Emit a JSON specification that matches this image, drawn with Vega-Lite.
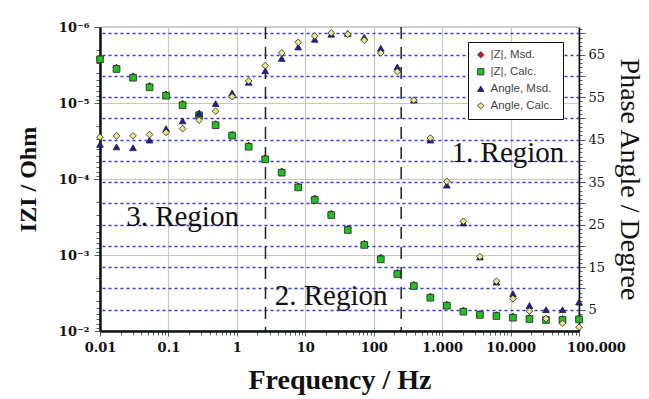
{
  "$schema": "https://vega.github.io/schema/vega-lite/v6.json",
  "width": 479,
  "height": 304,
  "autosize": {"type": "none"},
  "padding": {"left": 100, "top": 27, "right": 70, "bottom": 68},
  "background": "white",
  "config": {
    "view": {"stroke": "#444", "strokeWidth": 1.2},
    "font": "Liberation Serif",
    "axis": {"labelColor": "#111", "titleColor": "#111", "domainColor": "#111"},
    "legend": {
      "title": null,
      "orient": "none",
      "legendX": 368,
      "legendY": 15,
      "direction": "vertical",
      "labelFont": "Liberation Sans",
      "labelFontSize": 11.5,
      "labelColor": "#444",
      "symbolSize": 40,
      "symbolStrokeColor": "#222",
      "symbolStrokeWidth": 0.8,
      "rowPadding": 4,
      "padding": 7,
      "strokeColor": "#111",
      "fillColor": "white"
    }
  },
  "data": {
    "values": [
      {"f": 0.01, "zm": 2.55e-6, "zc": 2.66e-6, "am": 43.9, "ac": 45.6},
      {"f": 0.01743, "zm": 3.42e-6, "zc": 3.57e-6, "am": 43.3, "ac": 45.9},
      {"f": 0.03039, "zm": 4.45e-6, "zc": 4.65e-6, "am": 43.1, "ac": 45.9},
      {"f": 0.05298, "zm": 5.95e-6, "zc": 6.21e-6, "am": 44.9, "ac": 46.2},
      {"f": 0.09236, "zm": 7.7e-6, "zc": 8.02e-6, "am": 47.6, "ac": 46.7},
      {"f": 0.161, "zm": 1.02e-5, "zc": 1.07e-5, "am": 49.4, "ac": 47.6},
      {"f": 0.2807, "zm": 1.39e-5, "zc": 1.45e-5, "am": 51.2, "ac": 49.6},
      {"f": 0.4894, "zm": 1.89e-5, "zc": 1.96e-5, "am": 53.5, "ac": 51.7},
      {"f": 0.8532, "zm": 2.6e-5, "zc": 2.69e-5, "am": 56.0, "ac": 55.1},
      {"f": 1.4874, "zm": 3.62e-5, "zc": 3.76e-5, "am": 58.5, "ac": 58.8},
      {"f": 2.593, "zm": 5.3e-5, "zc": 5.51e-5, "am": 61.2, "ac": 62.4},
      {"f": 4.52, "zm": 7.95e-5, "zc": 8.26e-5, "am": 64.1, "ac": 65.4},
      {"f": 7.88, "zm": 1.24e-4, "zc": 1.29e-4, "am": 66.8, "ac": 67.9},
      {"f": 13.74, "zm": 1.8e-4, "zc": 1.89e-4, "am": 68.6, "ac": 69.4},
      {"f": 23.95, "zm": 2.86e-4, "zc": 2.98e-4, "am": 69.8, "ac": 70.1},
      {"f": 41.75, "zm": 4.5e-4, "zc": 4.69e-4, "am": 70.0, "ac": 69.8},
      {"f": 72.79, "zm": 7.1e-4, "zc": 7.38e-4, "am": 69.1, "ac": 68.4},
      {"f": 126.9, "zm": 1.08e-3, "zc": 1.14e-3, "am": 66.5, "ac": 65.4},
      {"f": 221.2, "zm": 1.71e-3, "zc": 1.78e-3, "am": 62.1, "ac": 61.0},
      {"f": 385.7, "zm": 2.46e-3, "zc": 2.56e-3, "am": 54.3, "ac": 54.3},
      {"f": 672.4, "zm": 3.52e-3, "zc": 3.65e-3, "am": 44.9, "ac": 45.4},
      {"f": 1172, "zm": 4.48e-3, "zc": 4.65e-3, "am": 34.3, "ac": 35.2},
      {"f": 2044, "zm": 5.38e-3, "zc": 5.57e-3, "am": 25.4, "ac": 25.8},
      {"f": 3563, "zm": 5.95e-3, "zc": 6.15e-3, "am": 17.4, "ac": 17.5},
      {"f": 6212, "zm": 6.15e-3, "zc": 6.35e-3, "am": 11.5, "ac": 11.7},
      {"f": 10829, "zm": 6.45e-3, "zc": 6.68e-3, "am": 8.8, "ac": 7.6},
      {"f": 18879, "zm": 6.7e-3, "zc": 6.95e-3, "am": 6.0, "ac": 4.7},
      {"f": 32913, "zm": 6.9e-3, "zc": 7.16e-3, "am": 5.0, "ac": 2.9},
      {"f": 57378, "zm": 6.9e-3, "zc": 7.16e-3, "am": 5.0, "ac": 1.8},
      {"f": 100000, "zm": 6.8e-3, "zc": 7.02e-3, "am": 6.8, "ac": 0.9}
    ]
  },
  "encoding": {
    "x": {
      "field": "f",
      "type": "quantitative",
      "scale": {"type": "log", "domain": [0.01, 100000], "nice": false},
      "axis": {
        "values": [0.01, 0.02, 0.03, 0.04, 0.05, 0.06, 0.07, 0.08, 0.09, 0.1, 0.2, 0.3, 0.4, 0.5, 0.6, 0.7, 0.8, 0.9, 1, 2, 3, 4, 5, 6, 7, 8, 9, 10, 20, 30, 40, 50, 60, 70, 80, 90, 100, 200, 300, 400, 500, 600, 700, 800, 900, 1000, 2000, 3000, 4000, 5000, 6000, 7000, 8000, 9000, 10000, 20000, 30000, 40000, 50000, 60000, 70000, 80000, 90000, 100000],
        "labelExpr": "abs(log(datum.value)/LN10 - round(log(datum.value)/LN10)) < 0.001 ? replace(format(datum.value, ','), ',', '.') : ''",
        "labelOverlap": false,
        "labelFlush": false,
        "labelFont": "DejaVu Serif",
        "labelFontWeight": "bold",
        "labelFontSize": 13,
        "labelPadding": 5,
        "labelOffset": {"condition": {"test": "datum.value >= 100000", "value": 17}, "value": 0},
        "tickSize": {"condition": {"test": "abs(log(datum.value)/LN10 - round(log(datum.value)/LN10)) < 0.001", "value": 5}, "value": 4},
        "tickColor": "#3d6b6b",
        "grid": true,
        "gridColor": "#c8c8c8",
        "gridWidth": 1.2,
        "gridOpacity": {"condition": {"test": "abs(log(datum.value)/LN10 - round(log(datum.value)/LN10)) < 0.001", "value": 1}, "value": 0},
        "domainWidth": 2.5,
        "title": "Frequency / Hz",
        "titleFont": "Liberation Serif",
        "titleFontSize": 28,
        "titleFontWeight": "bold",
        "titlePadding": 12
      }
    }
  },
  "layer": [
    {
      "data": {"values": [{"f": 2.62}, {"f": 252}]},
      "mark": {"type": "rule", "stroke": "#222", "strokeWidth": 1.5, "strokeDash": [12, 8]},
      "encoding": {}
    },
    {
      "transform": [{"fold": ["zm", "zc"], "as": ["s", "z"]}],
      "mark": {"type": "point", "filled": true, "stroke": "#222", "strokeWidth": 0.8, "size": 45, "opacity": 1},
      "encoding": {
        "y": {
          "field": "z",
          "type": "quantitative",
          "scale": {"type": "log", "domain": [1e-6, 0.01], "reverse": true, "nice": false},
          "axis": {
            "orient": "left",
            "values": [1e-6, 2e-6, 3e-6, 4e-6, 5e-6, 6e-6, 7e-6, 8e-6, 9e-6, 1e-5, 2e-5, 3e-5, 4e-5, 5e-5, 6e-5, 7e-5, 8e-5, 9e-5, 1e-4, 2e-4, 3e-4, 4e-4, 5e-4, 6e-4, 7e-4, 8e-4, 9e-4, 0.001, 0.002, 0.003, 0.004, 0.005, 0.006, 0.007, 0.008, 0.009, 0.01],
            "labelExpr": "datum.value == 1e-6 ? '10⁻⁶' : datum.value == 1e-5 ? '10⁻⁵' : datum.value == 1e-4 ? '10⁻⁴' : datum.value == 0.001 ? '10⁻³' : datum.value == 0.01 ? '10⁻²' : ''",
            "labelOverlap": false,
            "labelFont": "DejaVu Serif",
            "labelFontWeight": "bold",
            "labelFontSize": 13,
            "labelPadding": 5,
            "tickSize": {"condition": {"test": "abs(log(datum.value)/LN10 - round(log(datum.value)/LN10)) < 0.001", "value": 6}, "value": 4},
            "tickColor": "#3d6b6b",
            "grid": true,
            "gridColor": "#c8c8c8",
            "gridWidth": 1.2,
            "gridOpacity": {"condition": {"test": "abs(log(datum.value)/LN10 - round(log(datum.value)/LN10)) < 0.001", "value": 1}, "value": 0},
            "domainWidth": 2.5,
            "title": "IZI / Ohm",
            "titleFont": "Liberation Serif",
            "titleFontSize": 24,
            "titleFontWeight": "bold",
            "titlePadding": 18
          }
        },
        "color": {
          "field": "s",
          "type": "nominal",
          "scale": {"domain": ["zm", "zc", "am", "ac"], "range": ["#d81818", "#22c022", "#1c1ca8", "#efe58a"]},
          "legend": {"labelExpr": "datum.value == 'zm' ? '|Z|,  Msd.' : datum.value == 'zc' ? '|Z|,  Calc.' : datum.value == 'am' ? 'Angle,  Msd.' : 'Angle,  Calc.'"}
        },
        "shape": {
          "field": "s",
          "type": "nominal",
          "scale": {"domain": ["zm", "zc", "am", "ac"], "range": ["diamond", "square", "triangle-up", "diamond"]},
          "legend": {"labelExpr": "datum.value == 'zm' ? '|Z|,  Msd.' : datum.value == 'zc' ? '|Z|,  Calc.' : datum.value == 'am' ? 'Angle,  Msd.' : 'Angle,  Calc.'"}
        }
      }
    },
    {
      "transform": [{"fold": ["am", "ac"], "as": ["s", "a"]}],
      "mark": {"type": "point", "filled": true, "stroke": "#222", "strokeWidth": 0.8, "size": 45, "opacity": 1},
      "encoding": {
        "y": {
          "field": "a",
          "type": "quantitative",
          "scale": {"domain": [0, 71.5], "nice": false, "zero": false},
          "axis": {
            "orient": "right",
            "values": [1, 2, 3, 4, 5, 6, 7, 8, 9, 10, 11, 12, 13, 14, 15, 16, 17, 18, 19, 20, 21, 22, 23, 24, 25, 26, 27, 28, 29, 30, 31, 32, 33, 34, 35, 36, 37, 38, 39, 40, 41, 42, 43, 44, 45, 46, 47, 48, 49, 50, 51, 52, 53, 54, 55, 56, 57, 58, 59, 60, 61, 62, 63, 64, 65, 66, 67, 68, 69, 70, 71],
            "labelExpr": "datum.value % 10 == 5 ? datum.label : ''",
            "labelOverlap": false,
            "labelFont": "DejaVu Serif",
            "labelFontSize": 13,
            "labelPadding": 3,
            "tickSize": {"condition": {"test": "datum.value % 5 == 0", "value": 6}, "value": 3},
            "tickColor": "#3d6b6b",
            "grid": true,
            "gridColor": "#3838f0",
            "gridDash": [3, 3],
            "gridWidth": 1.6,
            "gridOpacity": {"condition": {"test": "datum.value % 5 == 0", "value": 1}, "value": 0},
            "domainWidth": 1.5,
            "title": "Phase Angle / Degree",
            "titleFont": "Liberation Serif",
            "titleFontSize": 28,
            "titleFontWeight": "normal",
            "titlePadding": 10
          }
        },
        "color": {
          "field": "s",
          "type": "nominal",
          "scale": {"domain": ["zm", "zc", "am", "ac"], "range": ["#d81818", "#22c022", "#1c1ca8", "#efe58a"]},
          "legend": {"labelExpr": "datum.value == 'zm' ? '|Z|,  Msd.' : datum.value == 'zc' ? '|Z|,  Calc.' : datum.value == 'am' ? 'Angle,  Msd.' : 'Angle,  Calc.'"}
        },
        "shape": {
          "field": "s",
          "type": "nominal",
          "scale": {"domain": ["zm", "zc", "am", "ac"], "range": ["diamond", "square", "triangle-up", "diamond"]},
          "legend": {"labelExpr": "datum.value == 'zm' ? '|Z|,  Msd.' : datum.value == 'zc' ? '|Z|,  Calc.' : datum.value == 'am' ? 'Angle,  Msd.' : 'Angle,  Calc.'"}
        }
      }
    },
    {
      "data": {
        "values": [
          {"f": 9165, "a": 39.7, "t": "1. Region"},
          {"f": 0.1607, "a": 24.8, "t": "3. Region"},
          {"f": 23.8, "a": 6.2, "t": "2. Region"}
        ]
      },
      "mark": {"type": "text", "font": "Liberation Serif", "fontSize": 29, "align": "center", "baseline": "alphabetic", "color": "#111"},
      "encoding": {
        "y": {"field": "a", "type": "quantitative", "scale": {"domain": [0, 71.5], "nice": false, "zero": false}, "axis": null},
        "text": {"field": "t"}
      }
    }
  ],
  "resolve": {"scale": {"y": "independent"}}
}
